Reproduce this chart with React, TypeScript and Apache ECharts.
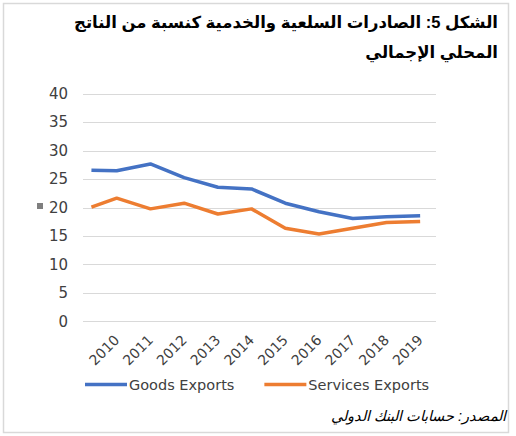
import React, { useEffect, useRef } from "react";
import * as echarts from "echarts";

const titleLines = ["الشكل 5: الصادرات السلعية والخدمية كنسبة من الناتج", "المحلي الإجمالي"];
const sourceText = "المصدر: حسابات البنك الدولي";
const xPositions = [2009.25, 2010, 2011, 2012, 2013, 2014, 2015, 2016, 2017, 2018, 2019];
const goodsExports = [26.6, 26.5, 27.7, 25.3, 23.6, 23.3, 20.8, 19.3, 18.1, 18.4, 18.6];
const servicesExports = [20.1, 21.7, 19.8, 20.8, 18.9, 19.8, 16.4, 15.4, 16.4, 17.4, 17.6];
const seriesNames = ["Goods Exports", "Services Exports"];

export default function App() {
  const ref = useRef<HTMLDivElement>(null);
  useEffect(() => {
    const chart = echarts.init(ref.current!, null, { renderer: "svg" });
    const pair = (vals: number[]) => xPositions.map((x, i) => [x, vals[i]]);
    chart.setOption({
      animation: false,
      backgroundColor: "#ffffff",
      textStyle: { fontFamily: "'DejaVu Sans', sans-serif" },
      grid: { left: 83, right: 80, top: 94, bottom: 114.5, containLabel: false },
      xAxis: {
        type: "value",
        min: 2009,
        max: 2019.47,
        interval: 1,
        axisLine: { show: false },
        axisTick: { show: false },
        splitLine: { show: false },
        axisLabel: {
          rotate: 45,
          color: "#404040",
          fontSize: 14,
          margin: 16,
          showMaxLabel: false,
          formatter: (v: number) => (Number.isInteger(v) && v >= 2010 && v <= 2019 ? String(v) : ""),
        },
      },
      yAxis: {
        type: "value",
        min: 0,
        max: 40,
        interval: 5,
        axisLine: { show: false },
        axisTick: { show: false },
        axisLabel: { color: "#404040", fontSize: 15, margin: 15 },
        splitLine: { lineStyle: { color: "#d9d9d9", width: 1 } },
      },
      legend: {
        left: 80,
        top: 372,
        icon: "rect",
        itemWidth: 42,
        itemHeight: 3.5,
        itemGap: 30,
        textStyle: { color: "#404040", fontSize: 14.5, padding: [0, 0, 0, -3] },
        data: seriesNames,
      },
      series: [
        {
          name: seriesNames[0],
          type: "line",
          data: pair(goodsExports),
          symbol: "none",
          lineStyle: { color: "#4472C4", width: 3.5 },
          itemStyle: { color: "#4472C4" },
        },
        {
          name: seriesNames[1],
          type: "line",
          data: pair(servicesExports),
          symbol: "none",
          lineStyle: { color: "#ED7D31", width: 3.5 },
          itemStyle: { color: "#ED7D31" },
        },
      ],
      graphic: [
        {
          type: "rect",
          shape: { x: 3.5, y: 3.5, width: 505, height: 429 },
          style: { fill: "none", stroke: "#d9d9d9", lineWidth: 1.5 },
          silent: true,
        },
        {
          type: "text",
          x: 498,
          y: 22,
          style: {
            text: titleLines[0],
            textAlign: "right",
            textVerticalAlign: "middle",
            font: "bold 16.5px Arial, 'DejaVu Sans', sans-serif",
            fill: "#000000",
          },
        },
        {
          type: "text",
          x: 498,
          y: 52,
          style: {
            text: titleLines[1],
            textAlign: "right",
            textVerticalAlign: "middle",
            font: "bold 16.5px Arial, 'DejaVu Sans', sans-serif",
            fill: "#000000",
          },
        },
        {
          type: "rect",
          shape: { x: 37, y: 203, width: 6, height: 6 },
          style: { fill: "#7f7f7f" },
        },
        {
          type: "text",
          x: 506,
          y: 416,
          style: {
            text: sourceText,
            textAlign: "right",
            textVerticalAlign: "middle",
            font: "italic 14.5px Arial, 'DejaVu Sans', sans-serif",
            fill: "#000000",
          },
        },
      ],
    });
    return () => chart.dispose();
  }, []);
  return <div ref={ref} style={{ width: 516, height: 436, position: "absolute", left: 0, top: 0 }} />;
}
